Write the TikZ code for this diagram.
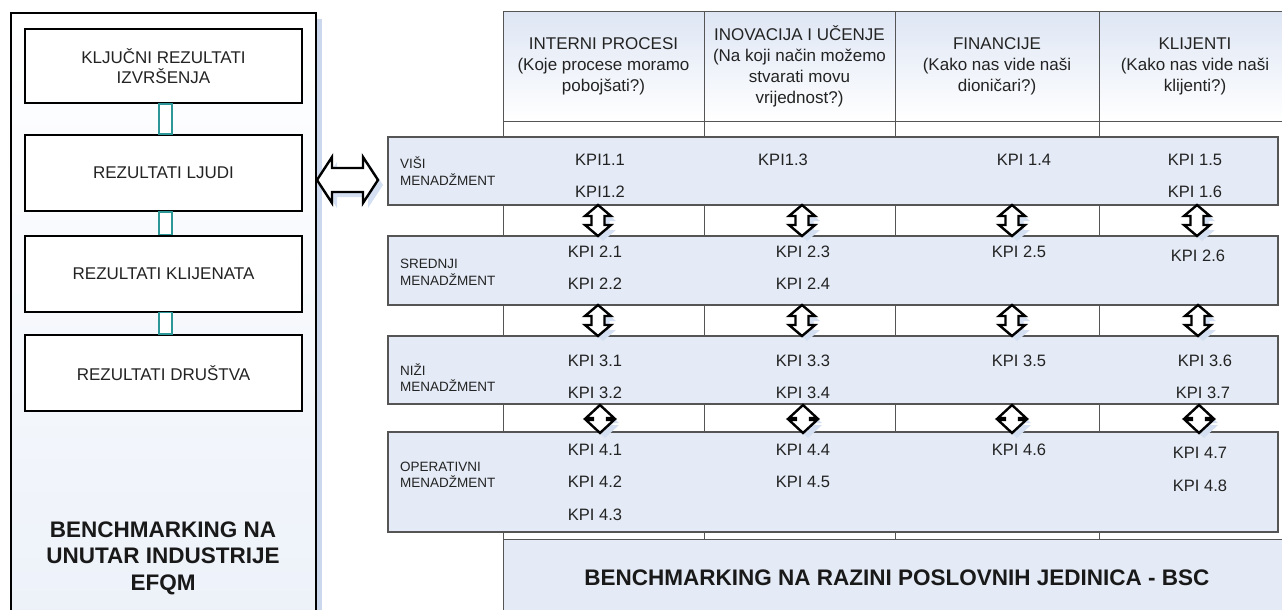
\documentclass[tikz,border=0pt]{standalone}
\usepackage{fontspec}
\setmainfont{Liberation Sans}
\usetikzlibrary{calc}
\definecolor{band}{RGB}{228,235,246}
\definecolor{shadowc}{RGB}{203,215,236}
\definecolor{ashadow}{RGB}{212,223,241}
\definecolor{txt}{RGB}{35,35,35}
\definecolor{grid}{RGB}{85,85,85}
\definecolor{tealc}{RGB}{45,150,150}
\definecolor{hdr}{RGB}{222,230,244}
\definecolor{lboxbot}{RGB}{236,241,249}

\newcommand{\UDA}[5]{%
 \fill[ashadow] ({#1+5},{#2+5}) -- ({#1+5+#4},{#2+5+#5}) -- ({#1+5+0.5*#4},{#2+5+#5}) -- ({#1+5+0.5*#4},{#3+5-#5}) -- ({#1+5+#4},{#3+5-#5}) -- ({#1+5},{#3+5}) -- ({#1+5-#4},{#3+5-#5}) -- ({#1+5-0.5*#4},{#3+5-#5}) -- ({#1+5-0.5*#4},{#2+5+#5}) -- ({#1+5-#4},{#2+5+#5}) -- cycle;
 \filldraw[blockarrow] (#1,#2) -- ({#1+#4},{#2+#5}) -- ({#1+0.5*#4},{#2+#5}) -- ({#1+0.5*#4},{#3-#5}) -- ({#1+#4},{#3-#5}) -- (#1,#3) -- ({#1-#4},{#3-#5}) -- ({#1-0.5*#4},{#3-#5}) -- ({#1-0.5*#4},{#2+#5}) -- ({#1-#4},{#2+#5}) -- cycle;}

\begin{document}
\begin{tikzpicture}[x=1pt,y=-1pt,
  blockarrow/.style={draw=black,fill=white,line width=2.4pt,line join=miter},
  lbox/.style={draw=black,fill=white,line width=2pt,minimum width=277,minimum height=76,align=center,text=txt,font=\fontsize{17}{20}\selectfont},
  hcell/.style={draw=grid,line width=1pt,top color=hdr,bottom color=white,minimum height=109,align=center,text=txt,font=\fontsize{17}{21}\selectfont},
  bandbox/.style={draw=grid,line width=1.2pt,fill=band,minimum width=890},
  blabel/.style={anchor=west,align=left,text=txt,font=\fontsize{13.5}{16.5}\selectfont,inner sep=0pt},
  kpi/.style={text=txt,font=\fontsize{16.5}{20}\selectfont,inner sep=0pt},
  boldt/.style={text=black!90,align=center,font=\fontsize{22.5}{26.5}\selectfont\bfseries},
  gridline/.style={draw=grid,line width=1pt},
  conn/.style={draw=tealc,fill=white,line width=1.3pt}
]
\useasboundingbox (0,0) rectangle (1282,610);
\clip (0,0) rectangle (1282,610);

% ---------- left EFQM panel ----------
\fill[shadowc] (17,19) rectangle (322,640);
\draw[line width=2.2pt,top color=white,bottom color=lboxbot] (11,13) rectangle (316,640);
\node[lbox,minimum height=74] (k1) at (163.5,66) {KLJUČNI REZULTATI\\IZVRŠENJA};
\node[lbox] (k2) at (163.5,173) {REZULTATI LJUDI};
\node[lbox] (k3) at (163.5,273.5) {REZULTATI KLIJENATA};
\node[lbox] (k4) at (163.5,373) {REZULTATI DRUŠTVA};
\draw[conn] ($(k1.south)+(-4.5,0)$) rectangle ($(k2.north)+(8.5,0)$);
\draw[conn] ($(k2.south)+(-4.5,0)$) rectangle ($(k3.north)+(8.5,0)$);
\draw[conn] ($(k3.south)+(-4.5,0)$) rectangle ($(k4.north)+(8.5,0)$);
\node[boldt] (efqm) at (163,558) {BENCHMARKING NA\\UNUTAR INDUSTRIJE\\EFQM};

% ---------- left-right block arrow ----------
\fill[ashadow] (322,185) -- (337,162) -- (337,173) -- (368,173) -- (368,162) -- (383,185) -- (368,208) -- (368,197) -- (337,197) -- (337,208) -- cycle;
\filldraw[blockarrow] (317,180) -- (332,157) -- (332,168) -- (363,168) -- (363,157) -- (378,180) -- (363,203) -- (363,192) -- (332,192) -- (332,203) -- cycle;

% ---------- BSC table ----------
\node[hcell,minimum width=201] (h1) at (603.5,66.5) {INTERNI PROCESI\\(Koje procese moramo\\pobojšati?)};
\node[hcell,minimum width=191] (h2) at (799.5,66.5) {INOVACIJA I UČENJE\\(Na koji način možemo\\stvarati movu\\vrijednost?)};
\node[hcell,minimum width=204] (h3) at (997,66.5) {FINANCIJE\\(Kako nas vide naši\\dioničari?)};
\node[hcell,minimum width=192] (h4) at (1195,66.5) {KLIJENTI\\(Kako nas vide naši\\klijenti?)};
\node[draw=grid,line width=1pt,fill=band,minimum width=788,minimum height=90] (bsc) at (897,584) {};
\node[boldt] at (897,578) {BENCHMARKING NA RAZINI POSLOVNIH JEDINICA - BSC};
\foreach \x in {503,704,895,1099,1291} \draw[gridline] (\x,121) -- (\x,539);

% bands
\node[bandbox,minimum height=68] (b1) at (833,171) {};
\node[bandbox,minimum height=69] (b2) at (833,270.5) {};
\node[bandbox,minimum height=68] (b3) at (833,370) {};
\node[bandbox,minimum height=100] (b4) at (833,482) {};

\node[blabel] (l1) at (400,171) {VIŠI\\MENADŽMENT};
\node[blabel] (l2) at (400,272.5) {SREDNJI\\MENADŽMENT};
\node[blabel] (l3) at (400,377.5) {NIŽI\\MENADŽMENT};
\node[blabel] (l4) at (400,475) {OPERATIVNI\\MENADŽMENT};

% KPIs
\node[kpi] (p11) at (600,160) {KPI1.1};
\node[kpi] (p12) at (600,192) {KPI1.2};
\node[kpi] (p13) at (783,160) {KPI1.3};
\node[kpi] (p14) at (1024,160) {KPI 1.4};
\node[kpi] (p15) at (1195,160) {KPI 1.5};
\node[kpi] (p16) at (1195,192) {KPI 1.6};
\node[kpi] (p21) at (595,252) {KPI 2.1};
\node[kpi] (p22) at (595,284) {KPI 2.2};
\node[kpi] (p23) at (803,252) {KPI 2.3};
\node[kpi] (p24) at (803,284) {KPI 2.4};
\node[kpi] (p25) at (1019,252) {KPI 2.5};
\node[kpi] (p26) at (1198,256) {KPI 2.6};
\node[kpi] (p31) at (595,361) {KPI 3.1};
\node[kpi] (p32) at (595,393) {KPI 3.2};
\node[kpi] (p33) at (803,361) {KPI 3.3};
\node[kpi] (p34) at (803,393) {KPI 3.4};
\node[kpi] (p35) at (1019,361) {KPI 3.5};
\node[kpi] (p36) at (1205,361) {KPI 3.6};
\node[kpi] (p37) at (1203,393) {KPI 3.7};
\node[kpi] (p41) at (595,450) {KPI 4.1};
\node[kpi] (p42) at (595,482) {KPI 4.2};
\node[kpi] (p43) at (595,515) {KPI 4.3};
\node[kpi] (p44) at (803,450) {KPI 4.4};
\node[kpi] (p45) at (803,482) {KPI 4.5};
\node[kpi] (p46) at (1019,450) {KPI 4.6};
\node[kpi] (p47) at (1200,453) {KPI 4.7};
\node[kpi] (p48) at (1200,486) {KPI 4.8};

% up-down block arrows between bands
\foreach \x in {598,802,1012,1197} {\UDA{\x}{205}{236}{13}{11}}
\foreach \x in {598,802,1012,1198} {\UDA{\x}{305}{336}{13}{11}}
\foreach \x in {600,803,1012,1199} {\UDA{\x}{405}{433}{14}{13}}
\end{tikzpicture}
\end{document}
